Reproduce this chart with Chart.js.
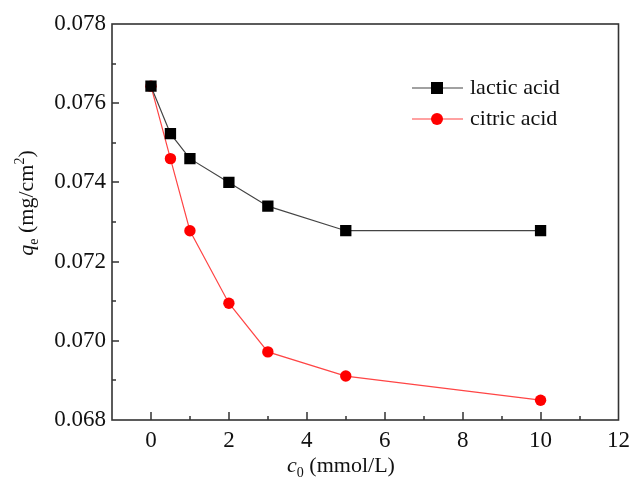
<!DOCTYPE html>
<html>
<head>
<meta charset="utf-8">
<script src="https://cdn.jsdelivr.net/npm/chart.js@4"></script>
<style>
  html, body { margin: 0; padding: 0; background: #fff; }
  #wrap { width: 637px; height: 478px; }
</style>
</head>
<body>
<div id="wrap"><canvas id="myChart" width="637" height="478"></canvas></div>
<script>
// initial concentration c0 (mmol/L)
const concentrations = [0, 0.5, 1, 2, 3, 5, 10];
// adsorption capacity qe (mg/cm2)
const lacticAcid = [0.07643, 0.07523, 0.07460, 0.07400, 0.07340, 0.07278, 0.07278];
const citricAcid = [0.07643, 0.07460, 0.07278, 0.07095, 0.06972, 0.06911, 0.06850];
const seriesNames = ['lactic acid', 'citric acid'];

const FONT = '"Liberation Serif", "Times New Roman", serif';
const FS = 23;

function toPoints(ys) {
    return concentrations.map((x, i) => ({ x: x, y: ys[i] }));
}

// frame, inward ticks, axis titles and the legend
const decorations = {
    id: 'decorations',
    afterDraw(chart) {
        const ctx = chart.ctx;
        const area = chart.chartArea;
        const xs = chart.scales.x;
        const ys = chart.scales.y;
        ctx.save();
        ctx.strokeStyle = '#333';
        ctx.lineWidth = 1.6;
        ctx.strokeRect(area.left, area.top, area.right - area.left, area.bottom - area.top);

        ctx.lineWidth = 1.5;
        ctx.beginPath();
        xs.ticks.forEach(t => {
            if (t.value <= xs.min || t.value >= xs.max) return;
            const px = Math.round(xs.getPixelForValue(t.value));
            const len = (Math.round(t.value) % 2 === 0) ? 8 : 4;
            ctx.moveTo(px, area.bottom);
            ctx.lineTo(px, area.bottom - len);
        });
        ys.ticks.forEach(t => {
            if (t.value <= ys.min + 1e-9 || t.value >= ys.max - 1e-9) return;
            const py = Math.round(ys.getPixelForValue(t.value));
            const len = (Math.round(t.value * 1000) % 2 === 0) ? 7 : 4;
            ctx.moveTo(area.left, py);
            ctx.lineTo(area.left + len, py);
        });
        ctx.stroke();

        ctx.fillStyle = '#111';
        ctx.textBaseline = 'alphabetic';

        // x title: c0 (mmol/L)
        const xParts = [
            { t: 'c', f: 'italic 22px ' + FONT, dy: 0 },
            { t: '0', f: '14px ' + FONT, dy: 5 },
            { t: ' (mmol/L)', f: '22px ' + FONT, dy: 0 }
        ];
        drawParts(ctx, xParts, 341, 472);

        // y title: qe (mg/cm2), rotated
        ctx.save();
        ctx.translate(33, 203);
        ctx.rotate(-Math.PI / 2);
        const yParts = [
            { t: 'q', f: 'italic 22px ' + FONT, dy: 0 },
            { t: 'e', f: '14px ' + FONT, dy: 5 },
            { t: ' (mg/cm', f: '22px ' + FONT, dy: 0 },
            { t: '2', f: '14px ' + FONT, dy: -9 },
            { t: ')', f: '22px ' + FONT, dy: 0 }
        ];
        drawParts(ctx, yParts, 0, 0);
        ctx.restore();

        // legend
        chart.data.datasets.forEach((ds, i) => {
            const ly = 88 + i * 31;
            ctx.strokeStyle = ds.borderColor;
            ctx.lineWidth = 1.2;
            ctx.beginPath();
            ctx.moveTo(412, ly);
            ctx.lineTo(463, ly);
            ctx.stroke();
            ctx.fillStyle = ds.pointBackgroundColor;
            if (ds.pointStyle === 'rect') {
                ctx.fillRect(437 - 6, ly - 6, 12, 12);
            } else {
                ctx.beginPath();
                ctx.arc(437, ly, 6, 0, Math.PI * 2);
                ctx.fill();
            }
            ctx.fillStyle = '#111';
            ctx.font = '22px ' + FONT;
            ctx.textBaseline = 'middle';
            ctx.textAlign = 'left';
            ctx.fillText(ds.label, 470, ly);
        });
        ctx.restore();
    }
};

function drawParts(ctx, parts, cx, baseline) {
    let total = 0;
    parts.forEach(p => { ctx.font = p.f; p.w = ctx.measureText(p.t).width; total += p.w; });
    let x = cx - total / 2;
    ctx.textAlign = 'left';
    parts.forEach(p => {
        ctx.font = p.f;
        ctx.fillText(p.t, x, baseline + p.dy);
        x += p.w;
    });
}

const ctx = document.getElementById('myChart').getContext('2d');
const myChart = new Chart(ctx, {
    type: 'line',
    data: {
        datasets: [{
            label: seriesNames[0],
            data: toPoints(lacticAcid),
            borderColor: '#444',
            borderWidth: 1.2,
            pointStyle: 'rect',
            pointRadius: 8,
            pointBackgroundColor: '#000',
            pointBorderColor: '#000',
            pointBorderWidth: 0,
            tension: 0
        }, {
            label: seriesNames[1],
            data: toPoints(citricAcid),
            borderColor: '#ff4545',
            borderWidth: 1.2,
            pointStyle: 'circle',
            pointRadius: 5.7,
            pointBackgroundColor: '#ff0000',
            pointBorderColor: '#ff0000',
            pointBorderWidth: 0,
            tension: 0
        }]
    },
    options: {
        responsive: false,
        animation: false,
        devicePixelRatio: 1,
        layout: { padding: { top: 24, right: 12, left: 0, bottom: 0 } },
        plugins: {
            legend: { display: false },
            tooltip: { enabled: false }
        },
        scales: {
            x: {
                type: 'linear',
                min: -1,
                max: 12,
                grid: { display: false, drawTicks: false },
                border: { display: false },
                afterFit: s => { s.height = 58; },
                ticks: {
                    stepSize: 1,
                    autoSkip: false,
                    maxRotation: 0,
                    padding: 7,
                    color: '#111',
                    font: { family: FONT, size: FS },
                    callback: v => (Math.round(v) % 2 === 0 && v >= 0) ? String(v) : ''
                }
            },
            y: {
                min: 0.068,
                max: 0.078,
                grid: { display: false, drawTicks: false },
                border: { display: false },
                afterFit: s => { s.width = 112; },
                ticks: {
                    stepSize: 0.001,
                    autoSkip: false,
                    padding: 6,
                    color: '#111',
                    font: { family: FONT, size: FS },
                    callback: v => (Math.round(v * 1000) % 2 === 0) ? v.toFixed(3) : ''
                }
            }
        }
    },
    plugins: [decorations]
});
</script>
</body>
</html>
